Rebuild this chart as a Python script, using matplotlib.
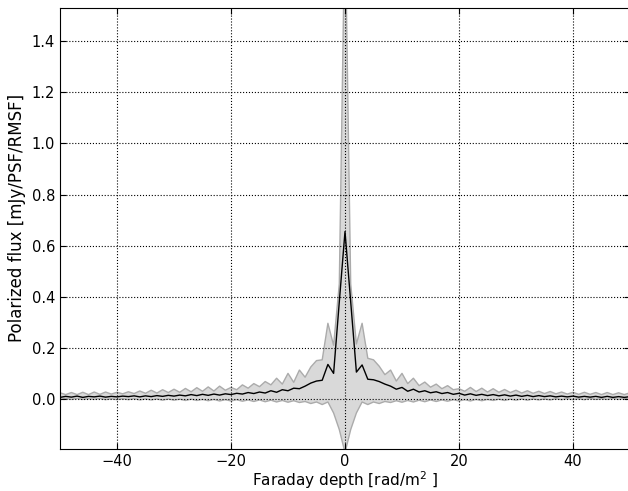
import numpy as np
import matplotlib
matplotlib.use("Agg")
import matplotlib.pyplot as plt

# Faraday depth samples (rad/m^2)
phi = np.arange(-50, 51)

# mean polarized flux
mean_flux = [
    0.006, 0.010, 0.007, 0.011, 0.006, 0.010, 0.008, 0.011, 0.007, 0.010,
    0.008, 0.011, 0.009, 0.012, 0.008, 0.012, 0.009, 0.013, 0.010, 0.014,
    0.011, 0.015, 0.012, 0.017, 0.013, 0.018, 0.014, 0.019, 0.015, 0.020,
    0.017, 0.022, 0.019, 0.025, 0.021, 0.027, 0.023, 0.032, 0.026, 0.036,
    0.032, 0.042, 0.040, 0.050, 0.062, 0.070, 0.073, 0.135, 0.100, 0.380,
    0.655,
    0.380, 0.105, 0.133, 0.077, 0.075, 0.068, 0.058, 0.050, 0.038, 0.045,
    0.030, 0.038, 0.027, 0.032, 0.024, 0.028, 0.021, 0.025, 0.018, 0.022,
    0.015, 0.020, 0.014, 0.018, 0.013, 0.017, 0.012, 0.016, 0.011, 0.015,
    0.010, 0.014, 0.009, 0.013, 0.009, 0.012, 0.008, 0.011, 0.008, 0.011,
    0.007, 0.010, 0.007, 0.010, 0.006, 0.010, 0.006, 0.009, 0.006, 0.009,
]

# upper edge of the spread
upper_flux = [
    0.024, 0.017, 0.025, 0.017, 0.026, 0.017, 0.027, 0.018, 0.027, 0.019,
    0.026, 0.020, 0.028, 0.021, 0.031, 0.022, 0.034, 0.023, 0.036, 0.025,
    0.038, 0.026, 0.041, 0.028, 0.044, 0.030, 0.047, 0.031, 0.050, 0.034,
    0.045, 0.036, 0.055, 0.042, 0.060, 0.048, 0.068, 0.055, 0.081, 0.058,
    0.100, 0.065, 0.113, 0.085, 0.125, 0.150, 0.153, 0.296, 0.210, 0.450,
    1.900,
    0.450, 0.215, 0.296, 0.159, 0.153, 0.128, 0.095, 0.113, 0.070, 0.100,
    0.060, 0.081, 0.052, 0.066, 0.046, 0.058, 0.040, 0.052, 0.036, 0.040,
    0.030, 0.045, 0.029, 0.042, 0.027, 0.040, 0.026, 0.037, 0.025, 0.034,
    0.023, 0.032, 0.022, 0.030, 0.021, 0.029, 0.020, 0.027, 0.019, 0.026,
    0.018, 0.026, 0.018, 0.025, 0.017, 0.025, 0.017, 0.024, 0.017, 0.024,
]

# lower edge of the spread
lower_flux = [
    -0.001, 0.002, -0.002, 0.002, -0.002, 0.001, -0.002, 0.002, -0.003, 0.001,
    -0.003, 0.001, -0.003, 0.001, -0.004, 0.000, -0.004, 0.000, -0.005, 0.000,
    -0.005, -0.001, -0.006, -0.001, -0.006, -0.002, -0.007, -0.002, -0.008, -0.003,
    -0.008, -0.003, -0.009, -0.004, -0.010, -0.004, -0.011, -0.005, -0.012, -0.006,
    -0.013, -0.007, -0.014, -0.010, -0.018, -0.012, -0.022, -0.012, -0.055, -0.120,
    -0.210,
    -0.120, -0.055, -0.012, -0.022, -0.012, -0.018, -0.010, -0.014, -0.007, -0.013,
    -0.006, -0.012, -0.005, -0.011, -0.004, -0.010, -0.004, -0.009, -0.003, -0.008,
    -0.003, -0.008, -0.002, -0.007, -0.002, -0.006, -0.001, -0.006, -0.001, -0.005,
    0.000, -0.005, 0.000, -0.004, 0.000, -0.004, 0.001, -0.003, 0.001, -0.003,
    0.001, -0.003, 0.002, -0.002, 0.001, -0.002, 0.002, -0.002, 0.002, -0.001,
]

xticks = [-40, -20, 0, 20, 40]
yticks = [0.0, 0.2, 0.4, 0.6, 0.8, 1.0, 1.2, 1.4]

plt.rcParams['font.family'] = 'DejaVu Sans'
plt.rcParams['font.size'] = 11
plt.rcParams['mathtext.fontset'] = 'dejavusans'

fig = plt.figure(figsize=(6.28, 4.91), dpi=100)
ax = fig.add_axes([60 / 628, 1 - 449 / 491, 570 / 628, 441 / 491])

ax.fill_between(phi, lower_flux, upper_flux, facecolor='#d9d9d9',
                edgecolor='#ababab', linewidth=1.0)
ax.plot(phi, mean_flux, color='black', linewidth=1.0)

ax.set_xlim(-50, 50)
ax.set_ylim(-0.196, 1.53)
ax.set_xticks(xticks)
ax.set_yticks(yticks)
ax.set_xticklabels([f"\u2212{abs(t)}" if t < 0 else str(t) for t in xticks])
ax.tick_params(direction='in', length=4, width=0.8, top=True, right=True,
               labelsize=10.5)
ax.set_axisbelow(False)
ax.grid(True, color='black', linestyle=':', linewidth=0.8)

ax.set_xlabel(r'Faraday depth [rad/m$^2$ ]', labelpad=0.5)
ax.set_ylabel('Polarized flux [mJy/PSF/RMSF]', fontsize=12)
ax.yaxis.set_label_coords(-0.06, 0.525)

fig.savefig('out.png', dpi=100)
